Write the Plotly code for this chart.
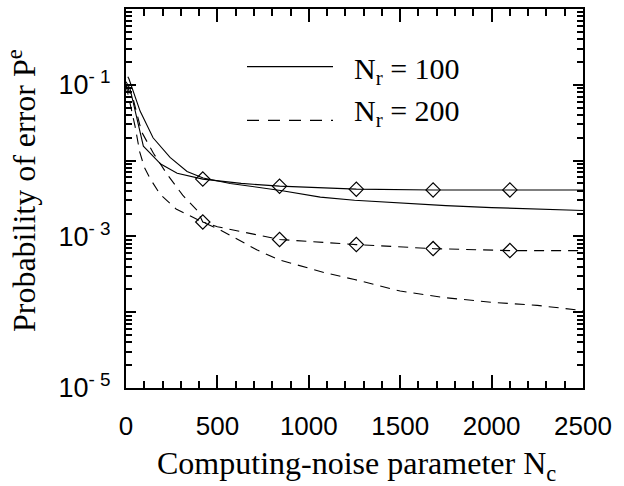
import plotly.graph_objects as go

# ---- data ----
nc_theory_100 = [10, 16, 77, 148, 241, 334, 422, 570, 855, 1063, 1250, 1500, 1750, 2000, 2250, 2500]
pe_theory_100 = [0.128, 0.12, 0.045, 0.020, 0.011, 0.0072, 0.0059, 0.0050, 0.0040, 0.0033,
                 0.0030, 0.00275, 0.00255, 0.0024, 0.0023, 0.0022]

nc_sim_100 = [0, 22, 95, 190, 280, 420, 630, 840, 1260, 1680, 2100, 2500]
pe_sim_100 = [0.11, 0.089, 0.0155, 0.0090, 0.0068, 0.0057, 0.0050, 0.0046, 0.0042, 0.0041, 0.0041, 0.0041]

nc_theory_200 = [0, 25, 50, 75, 100, 130, 186, 274, 406, 515, 603, 718, 839, 965, 1091,
                 1250, 1500, 1750, 2000, 2250, 2500]
pe_theory_200 = [0.1, 0.055, 0.028, 0.013, 0.0082, 0.0059, 0.0036, 0.0023, 0.0016, 0.00122,
                 0.00093, 0.00066, 0.00049, 0.00040, 0.00033, 0.00027, 0.00019, 0.000155,
                 0.000135, 0.000123, 0.000105]

nc_sim_200 = [0, 40, 85, 150, 225, 310, 390, 420, 500, 650, 770, 840, 1260, 1680, 2100, 2500]
pe_sim_200 = [0.1, 0.064, 0.024, 0.0125, 0.0066, 0.0035, 0.0022, 0.00155, 0.00134, 0.00112,
              0.00099, 0.00091, 0.00078, 0.00069, 0.00065, 0.00065]

marker_nc = [420, 840, 1260, 1680, 2100]

x_ticks = [0, 500, 1000, 1500, 2000, 2500]
y_ticks = [1e-5, 1e-4, 1e-3, 1e-2, 1e-1, 1e0]
y_ticktext = ["10<sup>- 5</sup>", "", "10<sup>- 3</sup>", "", "10<sup>- 1</sup>", ""]

legend_labels = ["N<sub>r</sub> = 100", "N<sub>r</sub> = 200"]
x_title = "Computing-noise parameter N<sub>c</sub>"
y_title = "Probability of error P<sup>e</sup>"

# ---- figure ----
fig = go.Figure()
LW = 1.1
DASH = "10px,7px"

fig.add_trace(go.Scatter(x=nc_theory_100, y=pe_theory_100, mode="lines",
                         line=dict(color="black", width=LW), showlegend=False))
fig.add_trace(go.Scatter(x=nc_sim_100, y=pe_sim_100, mode="lines",
                         line=dict(color="black", width=LW), showlegend=False))
fig.add_trace(go.Scatter(x=nc_theory_200, y=pe_theory_200, mode="lines",
                         line=dict(color="black", width=LW, dash=DASH), showlegend=False))
fig.add_trace(go.Scatter(x=nc_sim_200, y=pe_sim_200, mode="lines",
                         line=dict(color="black", width=LW, dash=DASH), showlegend=False))

for xs, ys in [(nc_sim_100, pe_sim_100), (nc_sim_200, pe_sim_200)]:
    mx = [x for x in xs if x in marker_nc]
    my = [y for x, y in zip(xs, ys) if x in marker_nc]
    fig.add_trace(go.Scatter(x=mx, y=my, mode="markers",
                             marker=dict(symbol="diamond-open", size=11, color="black",
                                         line=dict(color="black", width=1.2)),
                             showlegend=False))

# plot-area geometry in pixels
L, R, T, B = 126, 583, 7, 388
W, H = R - L, B - T
def px(xp):
    return (xp - L) / W
def py(yp):
    return (B - yp) / H

# legend samples
fig.add_shape(type="line", xref="paper", yref="paper", x0=px(247), x1=px(333),
              y0=py(65), y1=py(65), line=dict(color="black", width=1.3))
fig.add_shape(type="line", xref="paper", yref="paper", x0=px(247), x1=px(333),
              y0=py(119), y1=py(119), line=dict(color="black", width=1.3, dash="12px,9px"))

serif = "Liberation Serif"
sans = "Liberation Sans"
fig.add_annotation(text=legend_labels[0], xref="paper", yref="paper", x=px(352), y=py(69),
                   xanchor="left", yanchor="middle", showarrow=False,
                   font=dict(family=serif, size=30, color="black"))
fig.add_annotation(text=legend_labels[1], xref="paper", yref="paper", x=px(352), y=py(112),
                   xanchor="left", yanchor="middle", showarrow=False,
                   font=dict(family=serif, size=30, color="black"))

# axis titles
fig.add_annotation(text=x_title, xref="paper", yref="paper", x=px(356), y=py(443),
                   xanchor="center", yanchor="top", showarrow=False,
                   font=dict(family=serif, size=32, color="black"))
fig.add_annotation(text=y_title, xref="paper", yref="paper", x=px(22), y=py(190),
                   xanchor="center", yanchor="middle", showarrow=False, textangle=-90,
                   font=dict(family=serif, size=32, color="black"))

fig.update_xaxes(range=[0, 2500], tickvals=x_ticks, ticks="inside", ticklen=13, tickwidth=2,
                 tickcolor="black", showline=True, linewidth=2, linecolor="black",
                 mirror="ticks", showgrid=False, zeroline=False,
                 minor=dict(ticks="inside", dtick=100, ticklen=7, tickwidth=1.5,
                            tickcolor="black", showgrid=False),
                 tickfont=dict(family=sans, size=26, color="black"),
                 ticklabelstandoff=14)
minor_y = [m * 10 ** e for e in range(-5, 0) for m in range(2, 10)]
fig.update_yaxes(type="log", range=[-5, 0], tickvals=y_ticks, ticktext=y_ticktext,
                 ticks="inside", ticklen=10, tickwidth=2, tickcolor="black",
                 showline=True, linewidth=2, linecolor="black", mirror="ticks",
                 showgrid=False, zeroline=False,
                 minor=dict(ticks="inside", tickvals=minor_y, ticklen=6, tickwidth=1.5,
                            tickcolor="black", showgrid=False),
                 tickfont=dict(family=sans, size=27, color="black"),
                 ticklabelstandoff=8)

fig.update_layout(width=624, height=486, margin=dict(l=L, r=624 - R, t=T, b=486 - B),
                  plot_bgcolor="white", paper_bgcolor="white", showlegend=False)

fig.write_html("out.html")
